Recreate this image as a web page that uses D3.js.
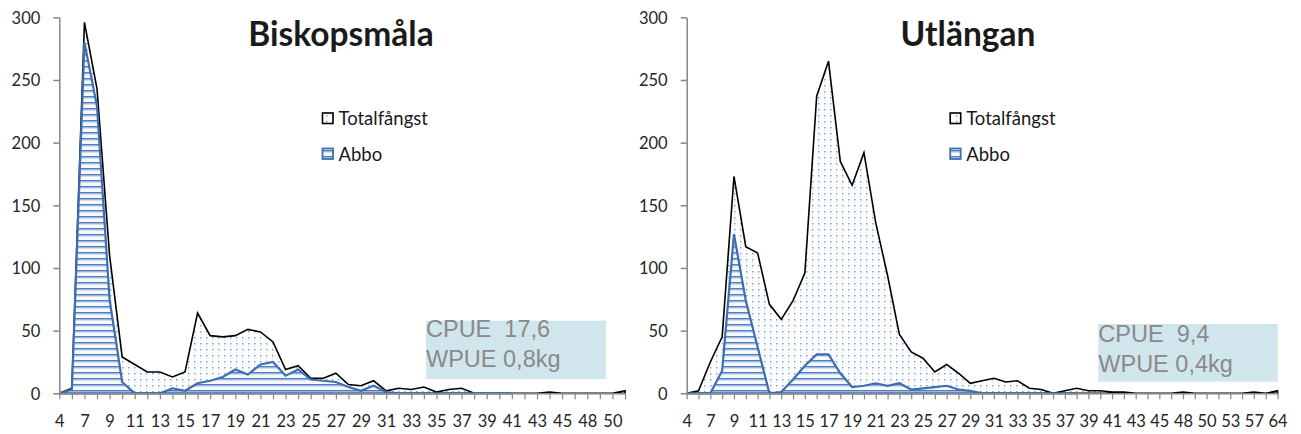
<!DOCTYPE html>
<html>
<head>
<meta charset="utf-8">
<script src="https://cdn.jsdelivr.net/npm/d3@7"></script>
<style>
  html, body { margin: 0; padding: 0; background: #fff; }
  svg { display: block; }
</style>
</head>
<body>
<svg id="chart" width="1301" height="434"></svg>
<script>
// Length classes (cm) for each lake
const catsBiskopsmala = ["4","6","7","8","9","10","11","12","13","14","15","16","17","18","19","20","21","22","23","24","25","26","27","28","29","30","31","32","33","34","35","36","37","38","39","40","41","42","43","44","45","46","48","49","50","51"];
const catsUtlangan = ["4","6","7","8","9","10","11","12","13","14","15","16","17","18","19","20","21","22","23","24","25","26","27","28","29","30","31","32","33","34","35","36","37","38","39","40","41","42","43","44","45","46","48","49","50","52","53","55","57","60","64"];

// Number of fish per length class
const totalBiskopsmala = [0, 4, 296, 243, 110, 29, 23, 17, 17, 13, 17, 64, 46, 45, 46, 51, 49, 41, 19, 22, 12, 12, 16, 7, 6, 10, 2, 4, 3, 5, 1, 3, 4, 0, 0, 0, 0, 0, 0, 1, 0, 0, 0, 0, 0, 2];
const abboBiskopsmala  = [0, 3, 280, 229, 75, 9, 0, 0, 0, 4, 2, 8, 10, 13, 19, 15, 23, 25, 14, 19, 11, 10, 9, 5, 2, 6, 1, 0, 0, 0, 0, 0, 0, 0, 0, 0, 0];
const totalUtlangan = [0, 2, 25, 45, 173, 117, 112, 71, 59, 74, 96, 237, 265, 185, 166, 192, 136, 94, 47, 33, 28, 17, 23, 16, 8, 10, 12, 9, 10, 4, 3, 0, 2, 4, 2, 2, 1, 1, 0, 0, 0, 0, 1, 0, 0, 0, 0, 0, 1, 0, 2];
const abboUtlangan  = [0, 0, 0, 18, 127, 74, 37, 0, 1, 11, 22, 31, 31, 16, 5, 6, 8, 6, 8, 3, 4, 5, 6, 3, 2, 0, 0, 0, 0, 0, 0, 0, 0, 0];

const yTicks = [0, 50, 100, 150, 200, 250, 300];
const seriesNames = ["Totalfångst", "Abbo"];
const titles = ["Biskopsmåla", "Utlängan"];
const cpueLines = [["CPUE  17,6", "WPUE 0,8kg"], ["CPUE  9,4", "WPUE 0,4kg"]];

const svg = d3.select("#chart");
const defs = svg.append("defs");

// Dotted fill for total catch
const dots = defs.append("pattern").attr("id", "dots")
  .attr("patternUnits", "userSpaceOnUse").attr("width", 6).attr("height", 6);
dots.append("rect").attr("width", 6).attr("height", 6).attr("fill", "#ffffff");
dots.append("rect").attr("x", 2).attr("y", 1).attr("width", 1.5).attr("height", 1.5).attr("fill", "#7aa3dc");
dots.append("rect").attr("x", 2).attr("y", 4).attr("width", 1).attr("height", 1).attr("fill", "#d2e0f3");

// Horizontal stripes for perch
const stripes = defs.append("pattern").attr("id", "stripes")
  .attr("patternUnits", "userSpaceOnUse").attr("width", 6).attr("height", 6);
stripes.append("rect").attr("width", 6).attr("height", 6).attr("fill", "#f7f9fd");
stripes.append("rect").attr("y", 0).attr("width", 6).attr("height", 1.6).attr("fill", "#4f7fc0");
stripes.append("rect").attr("y", 1.6).attr("width", 6).attr("height", 0.9).attr("fill", "#adc4e6");

const panels = [
  { cats: catsBiskopsmala, total: totalBiskopsmala, abbo: abboBiskopsmala,
    x0: 59.3, x1: 625, titleX: 341, legendX: 322.5, boxX: 426, boxY: 320.7, boxW: 180, boxH: 58.3, textY: 337.3 },
  { cats: catsUtlangan, total: totalUtlangan, abbo: abboUtlangan,
    x0: 686.7, x1: 1277.5, titleX: 968, legendX: 950.2, boxX: 1098.3, boxY: 324, boxW: 179.4, boxH: 57.7, textY: 342.3 }
];

const yTop = 17.3, yBottom = 393.3;
const y = d3.scaleLinear().domain([0, 300]).range([yBottom, yTop]);

panels.forEach((p, k) => {
  const g = svg.append("g");
  const x = d3.scalePoint().domain(p.cats).range([p.x0, p.x1]);

  const area = d3.area()
    .x((d, i) => x(p.cats[i]))
    .y0(y(0))
    .y1(d => y(d));

  // Total catch
  g.append("path").datum(p.total)
    .attr("d", area)
    .attr("fill", "url(#dots)")
    .attr("stroke", "#000")
    .attr("stroke-width", 1.6)
    .attr("stroke-linejoin", "miter");

  // Perch
  g.append("path").datum(p.abbo)
    .attr("d", area)
    .attr("fill", "url(#stripes)")
    .attr("stroke", "#3f6eb0")
    .attr("stroke-width", 2.2)
    .attr("stroke-linejoin", "miter");

  // Y axis
  const yAxis = g.append("g")
    .attr("transform", `translate(${p.x0},0)`)
    .call(d3.axisLeft(y).tickValues(yTicks).tickSize(6).tickPadding(13).tickSizeOuter(0));
  yAxis.select(".domain").attr("stroke", "#868686").attr("stroke-width", 1.5);
  yAxis.selectAll(".tick line").attr("stroke", "#868686").attr("stroke-width", 1.5);
  yAxis.selectAll(".tick text")
    .attr("font-family", "Lato, sans-serif").attr("font-size", 16.5)
    .attr("fill", "#262626").attr("dy", "0.36em");

  // X axis
  const xAxis = g.append("g")
    .attr("transform", `translate(0,${yBottom})`)
    .call(d3.axisBottom(x).tickSize(6).tickSizeOuter(0)
      .tickFormat((d, i) => (i % 2 === 0 ? d : "")));
  xAxis.select(".domain").attr("stroke", "#868686").attr("stroke-width", 1.5);
  xAxis.selectAll(".tick line").attr("stroke", "#868686").attr("stroke-width", 1.2);
  xAxis.selectAll(".tick text")
    .attr("font-family", "Lato, sans-serif").attr("font-size", 16.5)
    .attr("fill", "#262626").attr("y", 33.7).attr("dy", null);

  // Title
  g.append("text").attr("x", p.titleX).attr("y", 45.5)
    .attr("text-anchor", "middle")
    .attr("font-family", "Lato, sans-serif").attr("font-weight", "bold")
    .attr("font-size", 33.5).attr("fill", "#1a1a1a")
    .text(titles[k]);

  // Legend
  const leg = g.append("g");
  const rowsY = [113, 148.5];
  leg.append("rect").attr("x", p.legendX).attr("y", rowsY[0]).attr("width", 10.5).attr("height", 10.5)
    .attr("fill", "url(#dots)").attr("stroke", "#000").attr("stroke-width", 1.6);
  leg.append("rect").attr("x", p.legendX).attr("y", rowsY[1]).attr("width", 10.5).attr("height", 10.5)
    .attr("fill", "url(#stripes)").attr("stroke", "#3f6eb0").attr("stroke-width", 1.8);
  seriesNames.forEach((name, j) => {
    leg.append("text").attr("x", p.legendX + 16).attr("y", rowsY[j] + 12)
      .attr("font-family", "Lato, sans-serif").attr("font-size", 18.5)
      .attr("fill", "#1a1a1a").text(name);
  });

  // CPUE / WPUE box
  g.append("rect").attr("x", p.boxX).attr("y", p.boxY)
    .attr("width", p.boxW).attr("height", p.boxH).attr("fill", "#d0e5ec");
  cpueLines[k].forEach((line, j) => {
    g.append("text").attr("x", p.boxX).attr("y", p.textY + j * 29.4)
      .attr("font-family", "'Liberation Sans', Arial, sans-serif")
      .attr("font-size", 23.5).attr("fill", "#8a8a8a")
      .attr("xml:space", "preserve").style("white-space", "pre")
      .text(line);
  });
});
</script>
</body>
</html>
